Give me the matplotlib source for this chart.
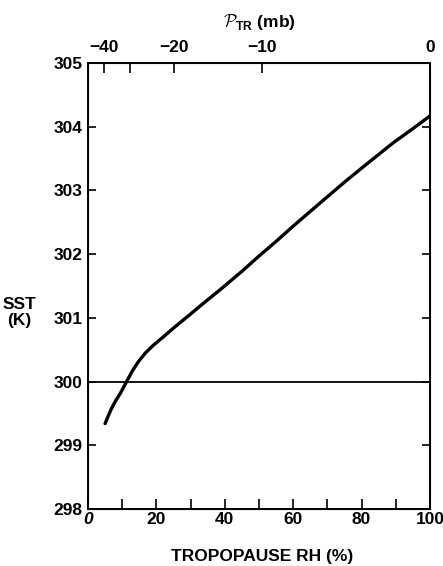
import matplotlib
matplotlib.use("Agg")
import matplotlib.pyplot as plt

# curve: tropopause RH (%) vs SST (K)
rh = [5.0, 6.0, 6.9, 8.1, 9.4, 11.3, 12.9, 14.7, 16.8, 19.1, 22, 25, 30, 34, 38.6, 45, 50,
      55, 60, 67.8, 75, 80, 89.3, 95, 100]
sst = [299.34, 299.47, 299.58, 299.70, 299.81, 300.0, 300.16, 300.31, 300.45, 300.57, 300.70,
       300.84, 301.06, 301.24, 301.44, 301.73, 301.97, 302.2, 302.44, 302.80, 303.13, 303.35,
       303.75, 303.97, 304.17]

# reference line
sst_ref = 300

# top axis (P_TR) ticks sit at these RH positions
top_pos = [4.7, 12.3, 25.2, 51.0, 100]
top_labels = ["\u221240", "", "\u221220", "\u221210", "0"]

x_ticks = [0, 10, 20, 30, 40, 50, 60, 70, 80, 90, 100]
x_labels = ["0", "", "20", "", "40", "", "60", "", "80", "", "100"]
y_ticks = [298, 299, 300, 301, 302, 303, 304, 305]

plt.rcParams["font.family"] = ["Liberation Sans", "DejaVu Sans"]
plt.rcParams["font.weight"] = "bold"
plt.rcParams["mathtext.fontset"] = "custom"
plt.rcParams["mathtext.rm"] = "Liberation Sans:bold"
plt.rcParams["mathtext.bf"] = "Liberation Sans:bold"
plt.rcParams["mathtext.cal"] = "cmsy10"

fs = 12.5

fig = plt.figure(figsize=(4.43, 5.66), dpi=100)
ax = fig.add_axes([0.1986, 0.1007, 0.7721, 0.7880])

ax.plot(rh, sst, color="black", lw=2.4, solid_capstyle="round")
ax.axhline(sst_ref, color="black", lw=1.3)

ax.set_xlim(0, 100)
ax.set_ylim(298, 305)
ax.set_xticks(x_ticks)
ax.set_xticklabels(x_labels, fontsize=fs, fontweight="bold")
ax.get_xticklabels()[0].set_fontstyle("italic")
ax.set_yticks(y_ticks)
ax.set_yticklabels([str(v) for v in y_ticks], fontsize=fs, fontweight="bold")
ax.tick_params(axis="x", direction="in", length=7, width=1.2, pad=2)
ax.tick_params(axis="y", direction="in", length=6, width=1.2, pad=4, right=True)
for s in ax.spines.values():
    s.set_linewidth(1.4)

fig.text(262 / 443, 1 - 557 / 566, "TROPOPAUSE RH (%)", fontsize=fs, fontweight="bold",
         ha="center", va="center")
ax.text(-0.2, 0.44, "SST\n(K)", transform=ax.transAxes, fontsize=fs,
        fontweight="bold", ha="center", va="center", linespacing=1.1)

top = ax.twiny()
top.set_xlim(0, 100)
top.set_xticks(top_pos)
top.set_xticklabels(top_labels, fontsize=fs, fontweight="bold")
top.tick_params(axis="x", direction="in", length=7, width=1.2, pad=6)
top.set_xlabel(r"$\mathcal{P}_{\mathbf{TR}}$ (mb)", fontsize=fs, fontweight="bold", labelpad=9)

fig.savefig("out.png", dpi=100)
